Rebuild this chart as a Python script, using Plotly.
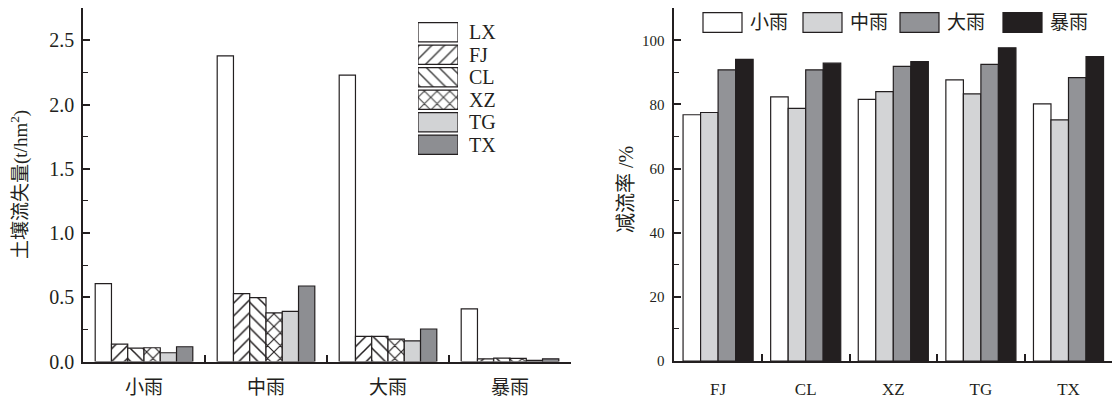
import plotly.graph_objects as go

# ---------------- data ----------------
rain_types = ["小雨", "中雨", "大雨", "暴雨"]
treatments_left = ["LX", "FJ", "CL", "XZ", "TG", "TX"]
soil_loss = {
    "LX": [0.607, 2.38, 2.23, 0.41],
    "FJ": [0.135, 0.529, 0.195, 0.021],
    "CL": [0.104, 0.497, 0.195, 0.026],
    "XZ": [0.107, 0.378, 0.174, 0.024],
    "TG": [0.068, 0.390, 0.161, 0.008],
    "TX": [0.115, 0.588, 0.253, 0.021],
}
treatments_right = ["FJ", "CL", "XZ", "TG", "TX"]
reduction = {
    "小雨": [76.8, 82.4, 81.6, 87.7, 80.2],
    "中雨": [77.5, 78.8, 84.0, 83.3, 75.2],
    "大雨": [90.8, 90.8, 91.9, 92.5, 88.4],
    "暴雨": [94.1, 92.9, 93.4, 97.7, 94.9],
}
left_ticks = [0.0, 0.5, 1.0, 1.5, 2.0, 2.5]
right_ticks = [0, 20, 40, 60, 80, 100]

# ---------------- styles ----------------
INK = "#231f20"
SERIF = "Liberation Serif, Times New Roman, serif"
CJK = "Liberation Serif, Noto Sans CJK SC, serif"
# colour, hatch shape, hatch solidity
left_style = {
    "LX": ("white", "", 0.17),
    "FJ": ("white", "/", 0.17),
    "CL": ("white", "\\", 0.17),
    "XZ": ("white", "x", 0.24),
    "TG": ("#d2d3d5", "", 0.17),
    "TX": ("#8d8e92", "", 0.17),
}
right_colors = {"小雨": "white", "中雨": "#d3d4d6", "大雨": "#929397", "暴雨": INK}

W, H = 1118, 403


def px_x(v):
    return v / W


def px_y(v):
    return 1 - v / H


fig = go.Figure()

# left chart bars
for t in treatments_left:
    col, shp, sol = left_style[t]
    fig.add_trace(go.Bar(
        x=rain_types, y=soil_loss[t], name=t, xaxis="x", yaxis="y",
        marker=dict(color=col, line=dict(color=INK, width=1.2),
                    pattern=dict(shape=shp, fgcolor=INK, bgcolor=col, fgopacity=1,
                                 size=9, solidity=sol)),
        showlegend=False,
    ))

# right chart bars
for r in rain_types:
    col = right_colors[r]
    fig.add_trace(go.Bar(
        x=treatments_right, y=reduction[r], name=r, xaxis="x2", yaxis="y2",
        marker=dict(color=col, line=dict(color=INK, width=1.2)),
        showlegend=False,
    ))

# left legend swatches (as a small bar panel)
fig.add_trace(go.Bar(
    x=[1] * len(treatments_left), y=treatments_left, orientation="h",
    xaxis="x3", yaxis="y3", width=0.86, showlegend=False, hoverinfo="skip",
    marker=dict(color=[left_style[t][0] for t in treatments_left],
                line=dict(color=INK, width=1.2),
                pattern=dict(shape=[left_style[t][1] for t in treatments_left],
                             solidity=[left_style[t][2] for t in treatments_left],
                             fgcolor=INK, fgopacity=1, size=9)),
))

axis_common = dict(showline=True, linecolor=INK, linewidth=1.5, showgrid=False,
                   zeroline=False, tickcolor=INK, ticks="inside", automargin=False)

fig.update_layout(
    width=W, height=H, margin=dict(l=0, r=0, t=0, b=0, pad=0),
    paper_bgcolor="white", plot_bgcolor="white",
    barmode="group", bargap=0.2, bargroupgap=0,
    xaxis=dict(domain=[px_x(83), px_x(571)], anchor="y", type="category",
               categoryorder="array", categoryarray=rain_types,
               range=[-0.5, 3.5], tickson="boundaries", ticklen=7, tickwidth=1.5,
               tickfont=dict(family=CJK, size=19, color=INK), ticklabelstandoff=8,
               **axis_common),
    yaxis=dict(domain=[px_y(361.5), px_y(8.3)], anchor="x", range=[0, 2.75],
               tickvals=left_ticks, tickformat=".1f", ticklen=7, tickwidth=1.5,
               minor=dict(dtick=0.25, ticks="inside", ticklen=5, tickcolor=INK, tickwidth=1.2),
               tickfont=dict(family=SERIF, size=20, color=INK), ticklabelstandoff=3,
               **axis_common),
    xaxis2=dict(domain=[px_x(674.3), px_x(1112.3)], anchor="y2", type="category",
                categoryorder="array", categoryarray=treatments_right,
                range=[-0.5, 4.5], tickson="boundaries", ticklen=7, tickwidth=1.5,
                tickfont=dict(family=SERIF, size=17, color=INK), ticklabelstandoff=12,
                **axis_common),
    yaxis2=dict(domain=[px_y(361), px_y(8.3)], anchor="x2", range=[0, 110],
                tickvals=right_ticks, ticklen=7, tickwidth=1.5,
                minor=dict(dtick=10, ticks="inside", ticklen=5, tickcolor=INK, tickwidth=1.2),
                tickfont=dict(family=SERIF, size=15, color=INK), ticklabelstandoff=5,
                **axis_common),
    xaxis3=dict(domain=[px_x(418), px_x(458)], anchor="y3", range=[0, 1], visible=False,
                fixedrange=True, automargin=False),
    yaxis3=dict(domain=[px_y(156), px_y(21)], anchor="x3", type="category",
                categoryorder="array", categoryarray=treatments_left[::-1],
                tickmode="array", tickvals=treatments_left, ticktext=treatments_left,
                side="right", showline=False, showgrid=False, zeroline=False, ticks="",
                tickfont=dict(family=SERIF, size=20, color=INK), ticklabelstandoff=10,
                fixedrange=True, automargin=False),
)

# axis titles
fig.add_annotation(text="土壤流失量(t/hm<sup>2</sup>)", xref="paper", yref="paper",
                   x=px_x(19), y=px_y(185), textangle=-90, showarrow=False,
                   xanchor="center", yanchor="middle",
                   font=dict(family=CJK, size=19, color=INK))
fig.add_annotation(text="减流率 /%", xref="paper", yref="paper",
                   x=px_x(626), y=px_y(190), textangle=-90, showarrow=False,
                   xanchor="center", yanchor="middle",
                   font=dict(family=CJK, size=20, color=INK))

# right legend (boxes + labels)
legend_left = [703, 803, 900, 1003]
for r, x0 in zip(rain_types, legend_left):
    fig.add_shape(type="rect", xref="paper", yref="paper",
                  x0=px_x(x0), x1=px_x(x0 + 39), y0=px_y(32.3), y1=px_y(12.7),
                  fillcolor=right_colors[r], line=dict(color=INK, width=1.2))
    fig.add_annotation(text=r, xref="paper", yref="paper", x=px_x(x0 + 45), y=px_y(22.5),
                       xanchor="left", yanchor="middle", showarrow=False,
                       font=dict(family=CJK, size=19, color=INK))

fig.write_html(
    "out.html",
    config={"displayModeBar": False},
    post_script="document.body.style.margin='0';document.body.style.overflow='hidden';",
)
